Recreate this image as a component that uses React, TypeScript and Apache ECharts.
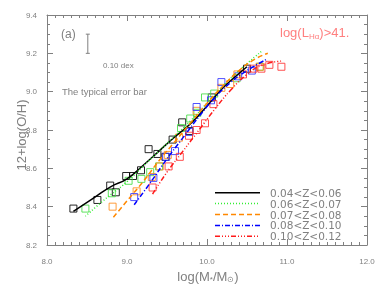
import React, { useEffect, useRef } from "react";
import * as echarts from "echarts";

// ---- data ----
const seriesNames = ["0.04<Z<0.06", "0.06<Z<0.07", "0.07<Z<0.08", "0.08<Z<0.10", "0.10<Z<0.12"];
const seriesColors = ["#000000", "#33ee33", "#ff8800", "#0000ff", "#ff1a1a"];
const squareColors = ["#000000", "#44dd44", "#ff8c1a", "#3333ff", "#ff3333"];
const dashTypes: any[] = ["solid", [1, 2], [5, 3], [5, 2, 1, 2], [5, 2, 1, 2, 1, 2, 1, 2]];

const fit1 = [[8.33, 8.375], [8.6, 8.45], [8.8, 8.505], [9.0, 8.545], [9.2, 8.615], [9.4, 8.69], [9.6, 8.765], [9.8, 8.835], [10.0, 8.925], [10.2, 9.02], [10.4, 9.095], [10.5, 9.13]];
const fit2 = [[8.48, 8.35], [8.7, 8.43], [9.0, 8.53], [9.2, 8.61], [9.4, 8.69], [9.6, 8.77], [9.8, 8.85], [10.0, 8.94], [10.2, 9.03], [10.4, 9.11], [10.68, 9.21]];
const fit3 = [[8.83, 8.345], [9.0, 8.43], [9.2, 8.53], [9.4, 8.64], [9.6, 8.74], [9.8, 8.84], [10.0, 8.94], [10.2, 9.03], [10.4, 9.11], [10.6, 9.17], [10.76, 9.2]];
const fit4 = [[9.09, 8.41], [9.3, 8.53], [9.5, 8.65], [9.7, 8.76], [9.9, 8.87], [10.1, 8.97], [10.3, 9.05], [10.5, 9.11], [10.75, 9.17]];
const fit5 = [[9.32, 8.466], [9.5, 8.58], [9.7, 8.69], [9.9, 8.8], [10.1, 8.91], [10.3, 9.01], [10.5, 9.09], [10.7, 9.14], [10.95, 9.16]];

const pts1 = [[8.33, 8.39], [8.63, 8.435], [8.79, 8.51], [8.86, 8.475], [8.99, 8.56], [9.075, 8.56], [9.175, 8.59], [9.27, 8.7], [9.38, 8.675], [9.48, 8.66], [9.57, 8.75], [9.69, 8.84], [9.78, 8.795], [10.06, 8.97], [10.5, 9.12]];
const pts2 = [[8.48, 8.39], [8.81, 8.47], [9.02, 8.535], [9.18, 8.545], [9.29, 8.58], [9.4, 8.61], [9.675, 8.81], [9.79, 8.86], [9.88, 8.89], [9.975, 8.97], [10.09, 8.99], [10.37, 9.07], [10.66, 9.13]];
const pts3 = [[8.82, 8.4], [9.12, 8.48], [9.31, 8.555], [9.41, 8.61], [9.51, 8.67], [9.65, 8.76], [9.87, 8.9], [10.18, 9.02], [10.29, 9.04], [10.38, 9.09], [10.66, 9.13]];
const pts4 = [[9.09, 8.45], [9.33, 8.55], [9.49, 8.66], [9.6, 8.69], [9.78, 8.79], [9.87, 8.92], [10.05, 8.955], [10.18, 9.05], [10.39, 9.08], [10.56, 9.11]];
const pts5 = [[9.32, 8.5], [9.52, 8.61], [9.66, 8.66], [9.775, 8.77], [9.87, 8.8], [9.975, 8.835], [10.08, 8.935], [10.45, 9.09], [10.58, 9.12], [10.68, 9.12], [10.78, 9.14], [10.93, 9.13]];

const fits = [fit1, fit2, fit3, fit4, fit5];
const points = [pts1, pts2, pts3, pts4, pts5];

const xTicks = { min: 8, max: 12, interval: 1 };
const yTicks = { min: 8.2, max: 9.4, interval: 0.2 };
const errorBar = { x: 8.51, y: 9.25, half: 0.05 };

const GRAY = "#808080";
const FONT = "Liberation Sans";
const LFONT = "DejaVu Sans";

export default function App() {
  const ref = useRef<HTMLDivElement>(null);
  useEffect(() => {
    if (!ref.current) return;
    const chart = echarts.init(ref.current, undefined, { renderer: "svg" });
    const axisCommon = {
      type: "value" as const,
      axisLine: { show: true, onZero: false, lineStyle: { color: GRAY, width: 1 } },
      axisTick: { show: true, inside: true, length: 6, lineStyle: { color: GRAY } },
      minorTick: { show: true, length: 3, lineStyle: { color: GRAY } },
      splitLine: { show: false },
    };
    const lineSeries = fits.map((d, i) => ({
      name: seriesNames[i],
      type: "line",
      data: d,
      smooth: true,
      showSymbol: false,
      symbol: "none",
      lineStyle: { color: seriesColors[i], width: 1.5, type: dashTypes[i] },
      itemStyle: { color: seriesColors[i] },
      z: 3,
    }));
    const scatterSeries = points.map((d, i) => ({
      name: "pts" + i,
      type: "scatter",
      data: d,
      symbol: "rect",
      symbolSize: 7,
      itemStyle: { color: "rgba(0,0,0,0)", borderColor: squareColors[i], borderWidth: 1, opacity: 0.85 },
      z: 2,
    }));
    // legend drawn as graphic elements from the series arrays
    const legendX = 215, legendY = 192.7, rowH = 10.9, lineLen = 45, textX = 270;
    const legendEls: any[] = [];
    seriesNames.forEach((n, i) => {
      const y = legendY + i * rowH;
      legendEls.push({
        type: "line",
        shape: { x1: legendX, y1: y, x2: legendX + lineLen, y2: y },
        style: { stroke: seriesColors[i], lineWidth: 1.5, lineDash: dashTypes[i] === "solid" ? null : dashTypes[i] },
      });
      legendEls.push({
        type: "text",
        x: textX,
        y: y,
        style: { text: n, fill: GRAY, fontSize: 10.5, lineHeight: 10.5, fontFamily: LFONT, verticalAlign: "middle", align: "left" },
      });
    });
    chart.setOption({
      animation: false,
      grid: { left: 47, right: 15, top: 15, bottom: 41, outerBoundsMode: "none", containLabel: false },
      xAxis: [
        {
          ...axisCommon,
          min: xTicks.min, max: xTicks.max, interval: xTicks.interval,
          minorTick: { ...axisCommon.minorTick, splitNumber: 10 },
          axisLabel: { color: GRAY, fontSize: 8, fontFamily: FONT, margin: 12, formatter: (v: number) => v.toFixed(1) },
        },
        {
          ...axisCommon,
          position: "top",
          min: xTicks.min, max: xTicks.max, interval: xTicks.interval,
          minorTick: { ...axisCommon.minorTick, splitNumber: 10 },
          axisLabel: { show: false },
        },
      ],
      yAxis: [
        {
          ...axisCommon,
          min: yTicks.min, max: yTicks.max, interval: yTicks.interval,
          minorTick: { ...axisCommon.minorTick, splitNumber: 4 },
          axisLabel: { color: GRAY, fontSize: 8, fontFamily: FONT, margin: 10, formatter: (v: number) => v.toFixed(1) },
        },
        {
          ...axisCommon,
          position: "right",
          min: yTicks.min, max: yTicks.max, interval: yTicks.interval,
          minorTick: { ...axisCommon.minorTick, splitNumber: 4 },
          axisLabel: { show: false },
        },
      ],
      graphic: [
        {
          type: "text", x: 21, y: 135, rotation: Math.PI / 2,
          style: { text: "12+log(O/H)", fill: GRAY, fontSize: 13, fontFamily: FONT, align: "center", verticalAlign: "middle" },
        },
        {
          type: "text", x: 208, y: 276,
          style: {
            text: "{a|log(M}{s|*}{a|/M}{s|⊙}{a|)}",
            align: "center", verticalAlign: "middle",
            rich: {
              a: { fontSize: 13, fill: GRAY, fontFamily: FONT },
              s: { fontSize: 8, fill: GRAY, fontFamily: FONT, padding: [7, 0, 0, 0] },
            },
          },
        },
        { type: "text", left: 61, top: 28, style: { text: "(a)", fill: GRAY, fontSize: 12, fontFamily: FONT } },
        {
          type: "text", left: 280, top: 26,
          style: {
            text: "{a|log(L}{s|Hα}{a|)>41.}",
            rich: {
              a: { fill: "#ff7f7f", fontSize: 13, fontFamily: FONT },
              s: { fill: "#ff7f7f", fontSize: 8, fontFamily: FONT, padding: [7, 0, 0, 0] },
            },
          },
        },
        { type: "text", left: 103, top: 61, style: { text: "0.10 dex", fill: GRAY, fontSize: 8, fontFamily: FONT } },
        { type: "text", left: 62, top: 86, style: { text: "The typical error bar", fill: GRAY, fontSize: 9.5, fontFamily: FONT } },
        { type: "group", children: legendEls },
      ],
      series: [
        ...lineSeries,
        ...scatterSeries,
        {
          type: "custom",
          name: "errbar",
          data: [[errorBar.x, errorBar.y]],
          renderItem: (params: any, api: any) => {
            const top = api.coord([errorBar.x, errorBar.y + errorBar.half]);
            const bot = api.coord([errorBar.x, errorBar.y - errorBar.half]);
            const st = { stroke: GRAY, lineWidth: 1 };
            return {
              type: "group",
              children: [
                { type: "line", shape: { x1: top[0], y1: top[1], x2: bot[0], y2: bot[1] }, style: st },
                { type: "line", shape: { x1: top[0] - 2, y1: top[1], x2: top[0] + 2, y2: top[1] }, style: st },
                { type: "line", shape: { x1: bot[0] - 2, y1: bot[1], x2: bot[0] + 2, y2: bot[1] }, style: st },
              ],
            };
          },
        },
      ],
    });
    return () => chart.dispose();
  }, []);
  return <div ref={ref} style={{ position: "fixed", left: 0, top: 0, width: 382, height: 286 }} />;
}
